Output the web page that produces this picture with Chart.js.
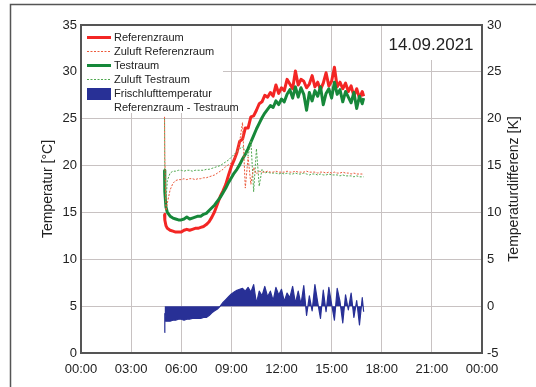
<!DOCTYPE html>
<html><head><meta charset="utf-8">
<script src="https://cdn.jsdelivr.net/npm/chart.js@4"></script>
<style>html,body{margin:0;padding:0;background:#fff}canvas{display:block}</style>
</head><body>
<canvas id="c" width="536" height="387"></canvas>
<script>
const times = ["05:00","05:01","05:05","05:10","05:20","05:30","05:40","05:50",
"06:00","06:10","06:20","06:30","06:40","06:50","07:00","07:10","07:20","07:30","07:40","07:50",
"08:00","08:10","08:20","08:30","08:40","08:50","09:00","09:10","09:20","09:30","09:40","09:50",
"10:00","10:10","10:20","10:30","10:40","10:50","11:00","11:10","11:20","11:30","11:40","11:50",
"12:00","12:10","12:20","12:30","12:40","12:50","13:00","13:10","13:20","13:30","13:40","13:50",
"14:00","14:10","14:20","14:30","14:40","14:50","15:00","15:10","15:20","15:30","15:40","15:50",
"16:00","16:10","16:20","16:30","16:40","16:50","16:55"];

const referenzraum = [14.8,14.2,13.6,13.3,13.1,13.0,12.9,12.9,
12.9,13.1,13.2,13.1,13.2,13.3, 13.3,13.4,13.5,13.7,14.0,14.5,
15.1,15.9,16.7,17.3,18.0,19.0, 19.9,20.6,21.4,22.6,22.8,24.0,
24.0,25.2,25.3,25.9,26.6,26.8, 27.5,27.3,27.8,27.4,28.6,27.7,
28.3,28.0,29.2,28.7,28.2,30.1, 28.6,29.2,29.0,28.3,28.7,29.6,
28.4,28.9,28.1,28.8,29.9,28.5, 29.0,30.5,28.4,28.9,28.2,28.8,
27.9,28.5,27.4,28.2,27.2,27.9, 27.4];

const zuluftReferenzraum = [25.2,21.0,15.2,16.0,17.4,18.1,18.4,18.5,
18.5,18.6,18.5,18.6,18.6,18.5, 18.6,18.6,18.7,18.7,18.8,18.9,
19.0,19.2,19.4,19.6,19.9,20.1, 20.3,20.7,21.2,22.6,24.6,17.6,
20.9,18.0,19.8,19.1,19.4,19.3, 19.3,19.4,19.3,19.3,19.4,19.3,
19.3,19.3,19.4,19.3,19.3,19.4, 19.3,19.3,19.3,19.4,19.3,19.3,
19.3,19.2,19.3,19.3,19.2,19.3, 19.2,19.3,19.2,19.2,19.3,19.2,
19.2,19.1,19.2,19.1,19.1,19.1, 19.0];

const testraum = [19.5,17.2,15.6,15.0,14.6,14.4,14.3,14.2,
14.2,14.3,14.5,14.3,14.4,14.5, 14.6,14.6,14.8,14.9,15.2,15.5,
15.8,16.2,16.6,17.1,17.6,18.2, 18.7,19.2,19.6,20.1,20.7,21.2,
21.8,22.5,23.2,23.9,24.5,25.1, 25.6,26.0,26.4,26.2,26.9,26.5,
27.1,26.8,27.6,28.1,27.2,28.4, 27.3,28.3,27.6,25.9,27.8,26.9,
28.0,27.4,28.4,26.5,27.7,28.2, 27.2,28.9,27.6,28.1,26.8,27.9,
27.3,26.7,27.8,26.1,27.4,26.6, 27.2];

const zuluftTestraum = [25.0,19.5,16.2,18.4,19.2,19.4,19.4,19.5,
19.5,19.4,19.5,19.5,19.4,19.5, 19.5,19.5,19.5,19.6,19.6,19.7,
19.8,19.9,20.0,20.2,20.4,20.6, 20.9,21.2,21.5,21.8,22.0,21.6,
21.0,22.7,17.2,21.8,17.8,19.6, 19.2,19.3,19.2,19.2,19.2,19.1,
19.2,19.1,19.2,19.1,19.1,19.2, 19.1,19.1,19.2,19.1,19.0,19.1,
19.1,19.0,19.1,19.0,19.0,19.1, 19.0,19.0,19.0,18.9,19.0,18.9,
18.9,18.9,18.8,18.9,18.8,18.8, 18.8];

const differenz = [-2.8,-0.8,-1.6,-1.6,-1.6,-1.5,-1.5,-1.4,
-1.4,-1.5,-1.4,-1.4,-1.3,-1.3, -1.3,-1.3,-1.2,-1.2,-1.0,-0.7,
-0.5,-0.3,0.0,0.4,0.7,1.0, 1.3,1.5,1.7,1.8,1.9,1.6,
2.0,1.5,2.3,0.3,1.6,1.1, 2.1,1.0,1.6,0.6,2.0,1.2,
1.8,0.5,1.4,0.9,2.1,0.3, 1.6,0.2,2.2,-1.0,1.1,-0.5,
2.3,0.4,-1.3,1.7,-0.6,2.0, 0.2,-1.5,1.9,0.5,-1.8,1.2,
-0.4,1.4,-1.2,0.6,-2.0,0.9, -0.6];

const xTickLabels = ["00:00","03:00","06:00","09:00","12:00","15:00","18:00","21:00","00:00"];
const seriesNames = ["Referenzraum","Zuluft Referenzraum","Testraum","Zuluft Testraum","Frischlufttemperatur"];
const diffSecondLine = "Referenzraum - Testraum";
const dateLabel = "14.09.2021";
const leftTitle = "Temperatur [°C]";
const rightTitle = "Temperaturdifferenz [K]";

function toHours(t){ const p = t.split(':').map(Number); return p[0] + p[1]/60; }
const pts = arr => arr.map((v,i) => ({x: toHours(times[i]), y: v}));

const FONT = "'Liberation Sans', Arial, sans-serif";
Chart.defaults.font.family = FONT;
Chart.defaults.color = '#222';

const C_RED = 'rgb(243,38,36)', C_RED_D = 'rgb(236,90,60)';
const C_GRN = 'rgb(22,136,58)', C_GRN_D = 'rgb(80,168,80)';
const C_BLUE = 'rgb(40,48,150)';
const GRID = 'rgb(200,194,194)';

const styles = [
  {color: C_RED, width: 3, dash: []},
  {color: C_RED_D, width: 1, dash: [2,1.5]},
  {color: C_GRN, width: 3, dash: []},
  {color: C_GRN_D, width: 1, dash: [2,1.5]},
  {color: C_BLUE, box: true}
];

const decor = {
  id: 'decor',
  beforeDraw(chart){
    const ctx = chart.ctx;
    ctx.save();
    ctx.fillStyle = '#fff'; ctx.fillRect(0,0,chart.width,chart.height);
    ctx.strokeStyle = '#555'; ctx.lineWidth = 1.5;
    ctx.beginPath(); ctx.moveTo(10.5, chart.height); ctx.lineTo(10.5, 4.5); ctx.lineTo(chart.width, 4.5); ctx.stroke();
    ctx.restore();
  },
  beforeDatasetsDraw(chart){
    const ctx = chart.ctx, a = chart.chartArea;
    ctx.save();
    ctx.fillStyle = '#fff';
    ctx.fillRect(a.left+1, a.top+1, 141, 87);
    ctx.fillRect(384, a.top+1, a.right-385, 34);
    ctx.font = '11px ' + FONT; ctx.textBaseline = 'middle'; ctx.textAlign = 'left';
    const x0 = a.left + 6, x1 = a.left + 30, tx = a.left + 33;
    for (let i = 0; i < 4; i++) {
      const y = a.top + 12.5 + i*14, s = styles[i];
      ctx.strokeStyle = s.color; ctx.lineWidth = s.width; ctx.setLineDash(s.dash);
      ctx.beginPath(); ctx.moveTo(x0, y); ctx.lineTo(x1, y); ctx.stroke();
      ctx.setLineDash([]);
      ctx.fillStyle = '#222'; ctx.fillText(chart.data.datasets[i].label, tx, y);
    }
    ctx.fillStyle = C_BLUE; ctx.fillRect(x0, a.top + 63, x1 - x0, 12);
    ctx.fillStyle = '#222';
    ctx.fillText(seriesNames[4], tx, a.top + 69);
    ctx.fillText(diffSecondLine, tx, a.top + 83);
    ctx.font = '17px ' + FONT; ctx.textAlign = 'center';
    ctx.fillText(dateLabel, 431, a.top + 20);
    ctx.restore();
  },
  afterDraw(chart){
    const ctx = chart.ctx, a = chart.chartArea;
    ctx.save();
    ctx.strokeStyle = '#555'; ctx.lineWidth = 2;
    ctx.strokeRect(a.left, a.top, a.right - a.left, a.bottom - a.top);
    ctx.translate(514, (a.top + a.bottom)/2);
    ctx.rotate(-Math.PI/2);
    ctx.font = '14px ' + FONT; ctx.fillStyle = '#222'; ctx.textAlign = 'center'; ctx.textBaseline = 'middle';
    ctx.fillText(rightTitle, 0, 0);
    ctx.restore();
  }
};

new Chart(document.getElementById('c'), {
  type: 'line',
  data: { datasets: [
    {label: seriesNames[0], data: pts(referenzraum), borderColor: C_RED, borderWidth: 3, order: 2, yAxisID: 'y'},
    {label: seriesNames[1], data: pts(zuluftReferenzraum), borderColor: C_RED_D, borderWidth: 1, borderDash: [2,1.5], order: 0, yAxisID: 'y'},
    {label: seriesNames[2], data: pts(testraum), borderColor: C_GRN, borderWidth: 3, order: 1, yAxisID: 'y'},
    {label: seriesNames[3], data: pts(zuluftTestraum), borderColor: C_GRN_D, borderWidth: 1, borderDash: [2,1.5], order: 0, yAxisID: 'y'},
    {label: seriesNames[4] + ' ' + diffSecondLine, data: pts(differenz), borderColor: C_BLUE, backgroundColor: C_BLUE, borderWidth: 1.2, fill: 'origin', order: 3, yAxisID: 'y2'}
  ]},
  options: {
    responsive: false, animation: false, devicePixelRatio: 1,
    elements: { point: { radius: 0 }, line: { tension: 0, borderJoinStyle: 'round' } },
    layout: { padding: { left: 40, right: 14, top: 25, bottom: 0 } },
    plugins: { legend: { display: false }, tooltip: { enabled: false } },
    scales: {
      x: { type: 'linear', min: 0, max: 24,
        ticks: { stepSize: 3, autoSkip: false, maxRotation: 0, padding: 9, font: { size: 13 }, color: '#222',
          callback: v => xTickLabels[Math.round(v/3)] },
        grid: { color: GRID, drawTicks: false, lineWidth: 1 },
        border: { color: '#555', width: 2 },
        afterFit(s){ s.height = 34; } },
      y: { position: 'left', min: 0, max: 35,
        ticks: { stepSize: 5, padding: 4, font: { size: 13 }, color: '#222' },
        grid: { color: GRID, drawTicks: false, lineWidth: 1 },
        border: { color: '#555', width: 2 },
        title: { display: true, text: leftTitle, font: { size: 14 }, padding: 0, color: '#222' },
        afterFit(s){ s.width = 41; } },
      y2: { position: 'right', min: -5, max: 30,
        ticks: { stepSize: 5, padding: 5, font: { size: 13 }, color: '#222' },
        grid: { display: false, drawTicks: false },
        border: { color: '#555', width: 2 },
        afterFit(s){ s.width = 40; } }
    }
  },
  plugins: [decor]
});
</script>
</body></html>
